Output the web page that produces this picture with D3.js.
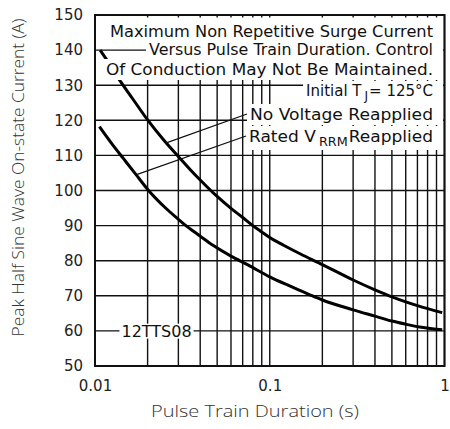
<!DOCTYPE html>
<html>
<head>
<meta charset="utf-8">
<script src="https://cdn.jsdelivr.net/npm/d3@7"></script>
<style>
  body { margin: 0; background: #fff; }
</style>
</head>
<body>
<script>
// chart values
var xTickValues = [0.01, 0.1, 1];
var xTickLabels = ["0.01", "0.1", "1"];
var yTickValues = [50, 60, 70, 80, 90, 100, 110, 120, 130, 140, 150];

// "No Voltage Reapplied" curve
var noVoltX = [0.0107, 0.0115, 0.0138, 0.0165, 0.02, 0.025, 0.03, 0.035, 0.04, 0.05, 0.06, 0.07, 0.08, 0.09, 0.1, 0.12, 0.15, 0.2, 0.3, 0.4, 0.5, 0.7, 0.97];
var noVoltY = [140, 137.7, 131.5, 126, 120.1, 114.1, 109.7, 106, 103, 98.3, 94.9, 92.3, 90, 88.2, 86.6, 84.4, 81.9, 78.9, 74.5, 71.7, 69.7, 67.2, 65.2];

// "Rated VRRM Reapplied" curve
var ratedX = [0.0106, 0.0125, 0.0146, 0.017, 0.0202, 0.025, 0.03, 0.0337, 0.04, 0.0476, 0.06, 0.075, 0.1, 0.13, 0.166, 0.2, 0.3, 0.4, 0.5, 0.6, 0.72, 0.85, 0.97];
var ratedY = [118.2, 113.3, 109, 104.8, 100.1, 95.3, 91.8, 89.7, 87, 84.3, 81.3, 78.8, 75.4, 72.8, 70.5, 68.8, 66, 64.2, 62.8, 61.9, 61.1, 60.6, 60.3];

// where the two leader lines touch the curves
var leaderX = [0.0256, 0.0173];
var leaderY = [113.6, 104.5];

var noteLines = [
  [{t: "Maximum Non Repetitive Surge Current"}],
  [{t: "Versus Pulse Train Duration. Control"}],
  [{t: "Of Conduction May Not Be Maintained."}],
  [{t: "Initial T"}, {t: "J", sub: true}, {t: "= 125°C"}],
  [{t: "No Voltage Reapplied"}],
  [{t: "Rated V"}, {t: "RRM", sub: true}, {t: "Reapplied"}]
];
var partLabel = "12TTS08";
var partLabelAt = [0.0225, 60];

var xTitle = "Pulse Train Duration (s)";
var yTitle = "Peak Half Sine Wave On-state Current (A)";

// svg size and margins
var svgWidth = 450;
var svgHeight = 429;
var margin = {top: 15, right: 5.5, bottom: 63, left: 95};
var chartWidth = svgWidth - margin.left - margin.right;
var chartHeight = svgHeight - margin.top - margin.bottom;

var labelFont = "'DejaVu Sans', sans-serif";
var titleFont = "'Open Sans', sans-serif";

// layout of the note box (chart coordinates)
var noteRight = 338;
var noteBaselines = [22, 40, 60, 81, 105, 127];
var noteWidths = [323, 284, 327, null, 183, 184];
var noteSizes = [16, 16, 16, 15, 16, 16];

var svg = d3.select("body")
  .append("svg")
  .attr("width", svgWidth)
  .attr("height", svgHeight);

var chartGroup = svg.append("g")
  .attr("transform", `translate(${margin.left}, ${margin.top})`);

var xScale = d3.scaleLog()
  .domain([0.01, 1])
  .range([0, chartWidth]);

var yScale = d3.scaleLinear()
  .domain([50, 150])
  .range([chartHeight, 0]);

// grid
chartGroup.append("g").selectAll("line")
  .data(yTickValues)
  .enter()
  .append("line")
  .attr("x1", 0)
  .attr("x2", chartWidth)
  .attr("y1", d => yScale(d))
  .attr("y2", d => yScale(d))
  .attr("stroke", "#111")
  .attr("stroke-width", 1.4);

chartGroup.append("g").selectAll("line")
  .data(xScale.ticks())
  .enter()
  .append("line")
  .attr("x1", d => xScale(d))
  .attr("x2", d => xScale(d))
  .attr("y1", 0)
  .attr("y2", chartHeight)
  .attr("stroke", "#111")
  .attr("stroke-width", 1.4);

// axes (labels only)
var leftAxis = d3.axisLeft(yScale).tickValues(yTickValues).tickSize(0).tickPadding(12);
var bottomAxis = d3.axisBottom(xScale).tickValues(xTickValues)
  .tickFormat((d, i) => xTickLabels[i]).tickSize(0).tickPadding(14.5);

var yAxisG = chartGroup.append("g").call(leftAxis);
var xAxisG = chartGroup.append("g")
  .attr("transform", `translate(0, ${chartHeight})`)
  .call(bottomAxis);

[yAxisG, xAxisG].forEach(function(g) {
  g.select(".domain").remove();
  g.selectAll("text")
    .attr("font-family", labelFont)
    .attr("font-size", 15)
    .attr("fill", "#222");
});

// curves
var line = d3.line()
  .x(d => xScale(d[0]))
  .y(d => yScale(d[1]))
  .curve(d3.curveMonotoneX);

chartGroup.append("path")
  .datum(noVoltX.map((x, i) => [x, noVoltY[i]]))
  .attr("d", line)
  .attr("fill", "none")
  .attr("stroke", "#000")
  .attr("stroke-width", 3);

chartGroup.append("path")
  .datum(ratedX.map((x, i) => [x, ratedY[i]]))
  .attr("d", line)
  .attr("fill", "none")
  .attr("stroke", "#000")
  .attr("stroke-width", 3);

// note box: white patches behind each line of text
var maskGroup = chartGroup.append("g");
var noteGroup = chartGroup.append("g");

noteLines.forEach(function(parts, i) {
  var txt = noteGroup.append("text")
    .attr("x", noteRight)
    .attr("y", noteBaselines[i])
    .attr("text-anchor", "end")
    .attr("font-family", labelFont)
    .attr("font-size", noteSizes[i])
    .attr("fill", "#111");
  if (noteWidths[i]) {
    txt.attr("textLength", noteWidths[i])
      .attr("lengthAdjust", "spacingAndGlyphs");
  }
  parts.forEach(function(p, j) {
    var ts = txt.append("tspan").text(p.t);
    if (p.sub) {
      ts.attr("font-size", 12).attr("dy", 4).attr("dx", 3);
    } else if (j > 0 && parts[j - 1].sub) {
      ts.attr("dy", -4).attr("dx", 1);
    }
  });
  var bb = txt.node().getBBox();
  var left = (i === 0 || i === 2) ? 5 : bb.x - 3;
  var top = (i === 0) ? 2.5 : bb.y - 1;
  maskGroup.append("rect")
    .attr("x", left)
    .attr("y", top)
    .attr("width", chartWidth - 1.5 - left)
    .attr("height", bb.y + bb.height + 1 - top)
    .attr("fill", "#fff");
  if (i >= 4) {
    // leader from curve to the text
    chartGroup.append("line")
      .attr("x1", xScale(leaderX[i - 4]))
      .attr("y1", yScale(leaderY[i - 4]))
      .attr("x2", bb.x - 3)
      .attr("y2", noteBaselines[i] - 6)
      .attr("stroke", "#111")
      .attr("stroke-width", 1.3);
  }
});

// frame
chartGroup.append("rect")
  .attr("width", chartWidth)
  .attr("height", chartHeight)
  .attr("fill", "none")
  .attr("stroke", "#111")
  .attr("stroke-width", 2);

// part number label
var partGroup = chartGroup.append("g");
var partMask = partGroup.append("rect").attr("fill", "#fff");
var part = partGroup.append("text")
  .attr("x", xScale(partLabelAt[0]))
  .attr("y", yScale(partLabelAt[1]))
  .attr("dy", "0.36em")
  .attr("text-anchor", "middle")
  .attr("font-family", labelFont)
  .attr("font-size", 16)
  .attr("fill", "#111")
  .text(partLabel);
var pb = part.node().getBBox();
partMask
  .attr("x", pb.x - 2)
  .attr("y", pb.y + 2)
  .attr("width", pb.width + 4)
  .attr("height", pb.height - 4);

// axis titles
svg.append("text")
  .attr("x", 255)
  .attr("y", 417)
  .attr("text-anchor", "middle")
  .attr("font-family", titleFont)
  .attr("font-weight", 300)
  .attr("font-size", 17)
  .attr("textLength", 208)
  .attr("lengthAdjust", "spacingAndGlyphs")
  .attr("fill", "#333")
  .text(xTitle);

svg.append("text")
  .attr("transform", "translate(23.5, 177.5) rotate(-90)")
  .attr("text-anchor", "middle")
  .attr("font-family", titleFont)
  .attr("font-weight", 300)
  .attr("font-size", 17)
  .attr("textLength", 318)
  .attr("lengthAdjust", "spacingAndGlyphs")
  .attr("fill", "#333")
  .text(yTitle);
</script>
</body>
</html>
